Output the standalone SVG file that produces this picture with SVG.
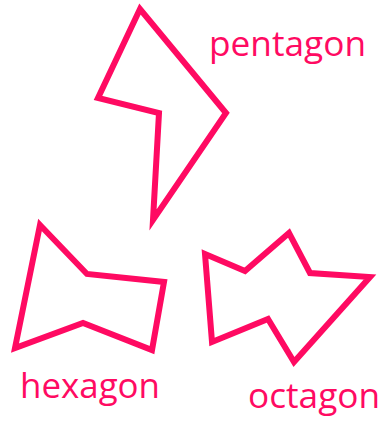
<svg xmlns="http://www.w3.org/2000/svg" width="385" height="421" viewBox="0 0 385 421">
<style>
.s{fill:none;stroke:#ff0a62;stroke-width:6;stroke-linejoin:miter;stroke-miterlimit:10}
.t{fill:#ff0a62;font-family:"Open Sans",sans-serif;font-size:35px}
</style>
<rect width="385" height="421" fill="#fff"/>
<g id="pentagon">
<polygon class="s" points="140,9 98,98 159,113 153,220 226,113"/>
<text class="t" x="209" y="56" textLength="157" lengthAdjust="spacingAndGlyphs">pentagon</text>
</g>
<g id="hexagon">
<polygon class="s" points="40,225 87,274 164,282 152,350 83,323 15,348"/>
<text class="t" x="20" y="398" textLength="140" lengthAdjust="spacingAndGlyphs">hexagon</text>
</g>
<g id="octagon">
<polygon class="s" points="205,254 245,271 289,233 310,273 370,277 294,362 268,319 212,342"/>
<text class="t" x="248" y="408" textLength="132" lengthAdjust="spacingAndGlyphs">octagon</text>
</g>
<g id="connectors"></g>
</svg>
